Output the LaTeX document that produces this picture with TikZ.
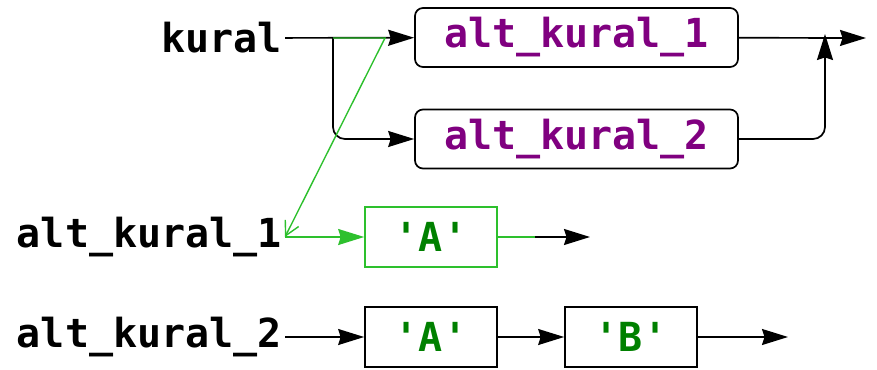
\documentclass[tikz,border=0pt]{standalone}
\usepackage{fontspec}
\setmonofont{DejaVu Sans Mono}
\usepackage{tikz}
\usetikzlibrary{arrows.meta}
\definecolor{rulepurple}{HTML}{800080}
\definecolor{litgreen}{HTML}{008000}
\definecolor{trace}{HTML}{2DC02D}

\begin{document}
\begin{tikzpicture}[x=1pt,y=-1pt,
  txt/.style={font=\fontsize{40}{41}\selectfont\ttfamily\bfseries},
  rulename/.style={txt,anchor=east,inner sep=3pt},
  rulebox/.style={txt,rectangle,rounded corners=8pt,draw,line width=1.7pt,minimum width=323pt,minimum height=59pt,text=rulepurple},
  litbox/.style={txt,rectangle,draw,line width=1.7pt,minimum width=132pt,minimum height=60pt,text=litgreen},
  arr/.style={-{Stealth[length=26pt,width=16pt,inset=2.5pt]},line width=1.7pt},
  wire/.style={line width=1.7pt},
  garr/.style={arr,trace},
  gwire/.style={wire,trace}]
\useasboundingbox (0,0) rectangle (877,369);
% rule names on the left
\node[rulename] (kural) at (285,38) {kural};
\node[rulename] (alt1) at (285,237) {alt\_kural\_1};
\node[rulename] (alt2) at (285,337) {alt\_kural\_2};
% alternatives of kural
\node[rulebox] (r1) at (576.5,37.5) {alt\_kural\_1};
\node[rulebox] (r2) at (576.5,139) {alt\_kural\_2};
\coordinate (split) at (333,38);
\coordinate (turn) at (385,38);
\coordinate (join) at (825,34);
\coordinate (end1) at (866,38);
\draw[arr] (kural) -- (r1);
\draw[arr,rounded corners=12pt] (split) |- (r2);
\draw[arr] (r1) -- (end1);
\draw[arr,rounded corners=12pt] (r2) -| (join);
% alt_kural_1 : 'A'
\node[litbox,draw=trace] (a1) at (431,237) {'A'};
\coordinate (g3) at (535,237);
\coordinate (end3) at (590,237);
\draw[garr] (alt1) -- (a1);
\draw[gwire] (a1) -- (g3);
\draw[arr] (g3) -- (end3);
% traced jump into alt_kural_1
\draw[trace,line width=1.4pt,-{Straight Barb[length=14pt,width=15pt]}] (split) -- (turn) -- (alt1.east);
% alt_kural_2 : 'A' 'B'
\node[litbox] (a2) at (431,337) {'A'};
\node[litbox] (b2) at (631,337) {'B'};
\coordinate (end4) at (788,337);
\draw[arr] (alt2) -- (a2);
\draw[arr] (a2) -- (b2);
\draw[arr] (b2) -- (end4);
\end{tikzpicture}
\end{document}
